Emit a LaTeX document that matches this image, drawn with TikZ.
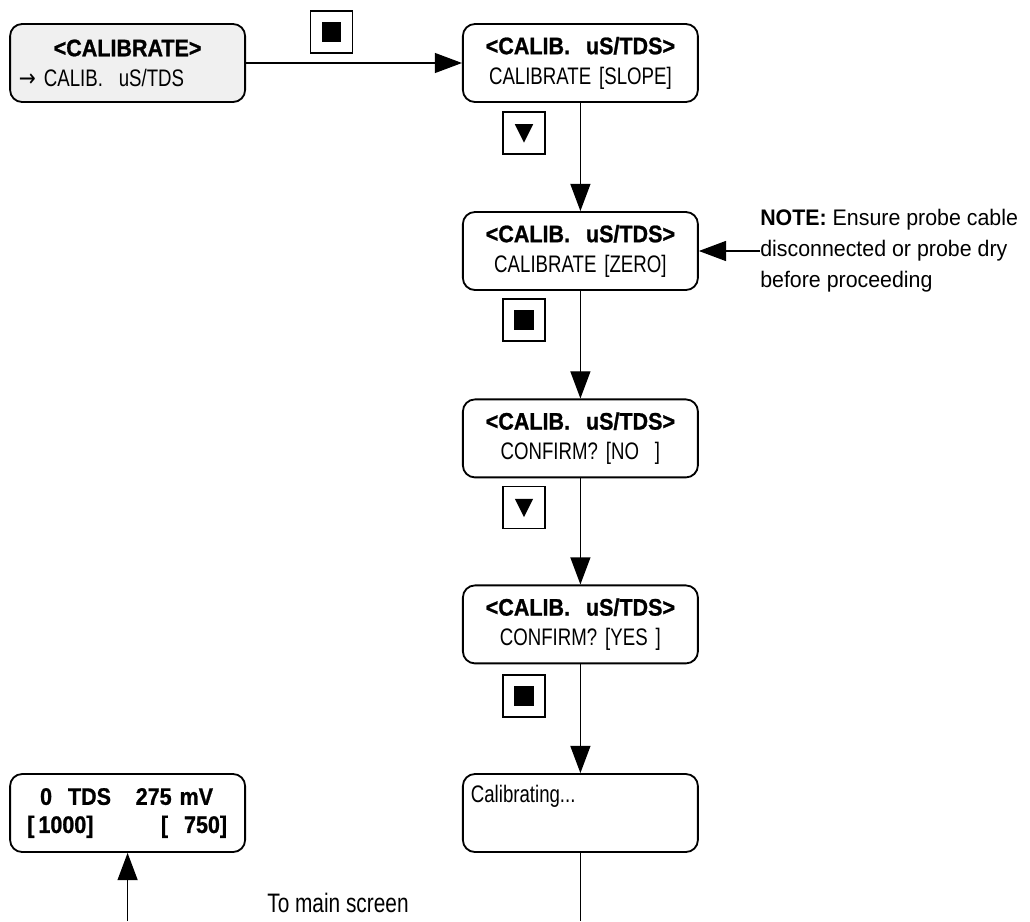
\documentclass[tikz,border=0pt]{standalone}
\usepackage{fontspec}
\setmainfont{Liberation Sans}[FakeStretch=0.78]
\newfontfamily\hdfont{Liberation Sans}[FakeStretch=0.9,BoldFeatures={FakeBold=1}]
\newfontfamily\notefont{Liberation Sans}[FakeStretch=0.95]
\newfontfamily\symfont{DejaVu Sans}[FakeStretch=0.85]
\usetikzlibrary{arrows.meta}
\tikzstyle{lcd}=[draw,line width=1.3pt,rounded corners=0.3cm,minimum width=5.875cm,minimum height=1.95cm,text width=5.875cm,inner sep=0,align=center,font=\fontsize{17pt}{21.3pt}\selectfont]
\tikzstyle{keybox}=[draw,line width=1.2pt,minimum size=1.05cm,inner sep=0]
\tikzstyle{enterkey}=[keybox,path picture={\fill ([shift={(-.24,-.24)}]path picture bounding box.center) rectangle ++(.48,.48);}]
\tikzstyle{downkey}=[keybox,path picture={\fill ([shift={(-.23,.22)}]path picture bounding box.center) --++(.46,0) --++(-.23,-.46) --cycle;}]
\tikzstyle{arrow}=[line width=1pt,-{Triangle[length=.68cm,width=.5cm]}]
\newcommand{\hdtxt}[1]{{\hdfont\bfseries #1}}

\begin{document}
\begin{tikzpicture}
\useasboundingbox (0,0) rectangle (25.75,-23.025);
% display screens
\node[lcd,fill=black!6] (cal) at (3.19,-1.575) {\hdtxt{<CALIBRATE>}\\\makebox[\hsize][l]{\hspace{.22cm}{\symfont →} CALIB.\ \ uS/TDS}};
\node[lcd] (slope) at (14.51,-1.575) {\hdtxt{<CALIB.\ \ uS/TDS>}\\CALIBRATE [SLOPE]};
\node[lcd] (zero) at (14.51,-6.275) {\hdtxt{<CALIB.\ \ uS/TDS>}\\CALIBRATE [ZERO]};
\node[lcd] (cfno) at (14.51,-10.96) {\hdtxt{<CALIB.\ \ uS/TDS>}\\CONFIRM? [NO\ \ ]};
\node[lcd] (cfyes) at (14.51,-15.61) {\hdtxt{<CALIB.\ \ uS/TDS>}\\CONFIRM? [YES ]};
\node[lcd] (busy) at (14.51,-20.325) {\makebox[\hsize][l]{\hspace{.2cm}Calibrating...}\\\strut};
\node[lcd,font=\hdfont\bfseries\fontsize{17pt}{20pt}\selectfont] (main) at (3.19,-20.325) {\makebox[\hsize][l]{\hspace{.75cm}0\ \ TDS\hfill 275 mV\hspace{.8cm}}\\\makebox[\hsize][l]{\hspace{.43cm}[\,1000]\hfill[\ \ 750]\hspace{.45cm}}};
% keys
\node[enterkey] (k1) at (8.29,-.8) {};
\node[downkey] (k2) at (13.1,-3.325) {};
\node[enterkey] (k3) at (13.1,-8) {};
\node[downkey] (k4) at (13.1,-12.69) {};
\node[enterkey] (k5) at (13.1,-17.4) {};
% note
\node[anchor=west,align=left,inner sep=0,font=\notefont\fontsize{16pt}{22pt}\selectfont] (note) at (19,-6.275) {\textbf{NOTE:} Ensure probe cable\\disconnected or probe dry\\before proceeding};
\node[font=\fontsize{19pt}{22pt}\selectfont] (tomain) at (8.45,-22.575) {To main screen};
\coordinate (retin) at (3.19,-23.025);
\coordinate (retout) at (14.51,-23.025);
% connectors
\draw[arrow] (cal)--(slope);
\draw[arrow] (slope)--(zero);
\draw[arrow] (zero)--(cfno);
\draw[arrow] (cfno)--(cfyes);
\draw[arrow] (cfyes)--(busy);
\draw[arrow] (note.west)--(zero.east);
\draw[line width=1pt] (busy)--(retout);
\draw[arrow] (retin)--(main);
\end{tikzpicture}
\end{document}
